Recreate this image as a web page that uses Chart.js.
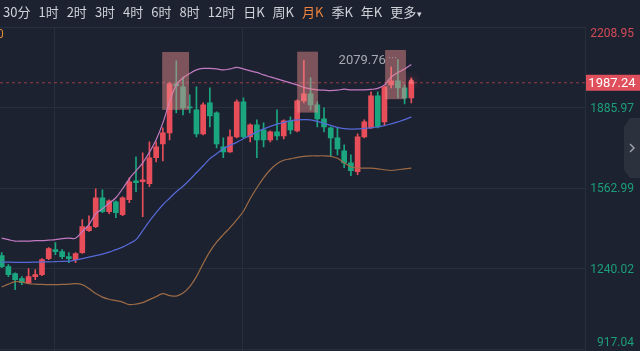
<!DOCTYPE html>
<html>
<head>
<meta charset="utf-8">
<script src="https://cdn.jsdelivr.net/npm/chart.js@4.4.1/dist/chart.umd.min.js"></script>
<style>
html, body { margin: 0; padding: 0; background: #1c2230; overflow: hidden; }
#wrap { position: relative; width: 640px; height: 351px; }
canvas { position: absolute; left: 0; top: 0; }
#tabs { position: absolute; left: 3px; top: 3px; display: flex; gap: 8px; font: 13px "Noto Sans CJK SC", sans-serif; color: #cfd2d9; line-height: 18px; }
#tabs .on { color: #f0843c; }
#tabs small { font-size: 9px; margin-left: 1px; }
</style>
</head>
<body>
<div id="wrap">
  <canvas id="kChart" width="640" height="351"></canvas>
  <div id="tabs">
    <span>30分</span><span>1时</span><span>2时</span><span>3时</span><span>4时</span><span>6时</span><span>8时</span><span>12时</span><span>日K</span><span>周K</span><span class="on">月K</span><span>季K</span><span>年K</span><span>更多<small>▾</small></span>
  </div>
</div>
<script>
// monthly candles (OHLC)
const candleOpen = [1293.6,1249.5,1221.5,1201.4,1185.4,1209.5,1217.5,1281.5,1317.6,1309.6,1289.6,1277.5,1305.6,1393.7,1409.7,1525.9,1469.8,1509.9,1457.8,1517.9,1594.0,1590.0,1582.0,1686.2,1742.3,1786.3,1982.6,1970.6,1890.5,1878.4,1782.3,1906.5,1866.4,1730.2,1710.2,1770.3,1910.5,1770.3,1818.4,1798.3,1758.3,1790.3,1774.3,1834.4,1794.3,1914.5,1942.5,1898.5,1842.4,1806.4,1766.3,1714.2,1666.1,1630.1,1770.3,1806.4,1934.5,1830.4,1978.6,1994.6,1966.6,1926.5];
const candleHigh = [1305.6,1257.5,1225.0,1209.5,1241.5,1237.5,1281.5,1325.6,1345.6,1317.6,1305.6,1305.6,1437.8,1453.8,1562.0,1558.0,1517.9,1513.9,1529.9,1606.0,1690.2,1706.2,1750.3,1750.3,1806.4,1986.6,2075.0,2010.6,1938.5,1970.6,1906.5,1966.6,1870.4,1766.3,1798.3,1918.5,1926.5,1822.4,1838.4,1826.4,1794.3,1878.4,1838.4,1850.4,1918.5,2077.0,2006.6,1910.5,1886.5,1810.3,1806.4,1738.2,1698.2,1782.3,1838.4,1950.5,1950.5,1974.6,2050.7,2079.76,1978.6,2006.6];
const candleLow = [1245.5,1209.5,1157.4,1177.4,1181.4,1197.4,1213.5,1277.5,1297.6,1281.5,1265.5,1265.5,1303.0,1391.0,1405.7,1465.8,1461.8,1445.8,1453.8,1505.9,1550.0,1449.8,1570.0,1670.1,1674.1,1758.3,1866.4,1858.4,1866.4,1770.3,1778.3,1810.3,1726.2,1686.2,1708.0,1766.3,1766.3,1750.3,1686.2,1730.2,1750.3,1758.3,1762.3,1782.3,1790.3,1906.5,1878.4,1810.3,1790.3,1690.2,1698.2,1646.1,1614.1,1618.1,1766.3,1804.0,1806.4,1818.4,1966.6,1926.5,1902.5,1906.5];
const candleClose = [1249.5,1217.5,1197.4,1185.4,1209.5,1217.5,1277.5,1321.6,1309.6,1289.6,1281.5,1301.6,1409.7,1409.7,1525.9,1469.8,1513.9,1465.8,1525.9,1590.0,1586.0,1598.0,1686.2,1730.2,1786.3,1982.6,1974.6,1886.5,1886.5,1782.3,1898.5,1854.4,1742.3,1710.2,1770.3,1910.5,1770.3,1818.4,1758.3,1758.3,1790.3,1774.3,1834.4,1798.3,1914.5,1942.5,1898.5,1842.4,1810.3,1766.3,1722.2,1666.1,1634.1,1770.3,1830.4,1934.5,1810.3,1970.6,1994.6,1966.6,1926.5,1987.24];

// bollinger bands
const bollUpper = [1363.7,1357.7,1351.7,1351.7,1351.7,1353.7,1353.7,1355.7,1357.7,1361.7,1363.7,1363.7,1389.7,1417.8,1461.8,1481.9,1503.9,1525.9,1562.0,1602.0,1634.1,1666.1,1708.2,1758.3,1826.4,1910.5,1978.6,2006.6,2024.7,2038.7,2044.7,2044.7,2042.7,2038.7,2042.7,2048.7,2042.7,2034.7,2028.7,2018.6,2010.6,2002.6,1994.6,1986.6,1978.6,1968.6,1962.6,1958.6,1957.4,1955.8,1957.4,1961.4,1958.6,1958.6,1958.6,1960.6,1964.6,1978.6,2010.6,2028.7,2042.7,2060.7];
const bollMid = [1268.3,1267.5,1266.7,1266.7,1266.7,1267.5,1268.3,1268.3,1269.5,1270.7,1271.5,1275.5,1281.5,1287.6,1293.6,1299.6,1307.6,1317.6,1327.6,1341.6,1357.7,1393.7,1431.8,1465.8,1497.9,1523.9,1549.9,1572.0,1598.0,1626.1,1654.1,1682.2,1702.2,1722.2,1736.2,1748.2,1762.3,1776.3,1790.3,1802.3,1812.3,1821.2,1828.4,1834.4,1838.4,1839.2,1838.4,1832.4,1824.4,1816.3,1808.3,1803.5,1801.5,1802.3,1804.3,1806.3,1810.3,1815.1,1822.4,1830.4,1839.2,1850.4];
const bollLower = [1168.2,1179.4,1189.4,1187.4,1181.4,1179.4,1178.2,1177.4,1177.4,1178.2,1179.4,1181.4,1177.4,1161.4,1141.3,1127.3,1118.5,1113.3,1107.3,1097.3,1099.3,1105.3,1117.3,1129.3,1141.3,1133.3,1131.3,1143.3,1169.4,1209.4,1261.5,1309.6,1347.6,1377.7,1405.7,1437.8,1471.8,1521.9,1566.0,1606.0,1638.1,1662.1,1676.1,1682.1,1688.2,1692.2,1694.2,1694.2,1694.2,1692.2,1684.1,1666.1,1650.1,1644.9,1644.9,1644.9,1642.1,1638.1,1635.3,1638.1,1642.1,1644.9];

// highlighted pattern zones (candle index range, price range)
const zoneStart = [23.9, 44.0, 57.1];
const zoneEnd = [27.9, 47.1, 60.2];
const zoneLow = [1878.4, 1867.6, 1921.3];
const zoneHigh = [2110.8, 2112.0, 2118.8];

const yTicks = [917.04, 1240.02, 1562.99, 1885.97, 2208.95];
const xGridAt = [7.8, 35.9];
const lastPrice = 1987.24;

const upColor = "#e84e5a";
const downColor = "#1ba680";
const gridColor = "#272e3c";

const idx = candleOpen.map((_, i) => i);
const candleColors = idx.map(i => candleClose[i] >= candleOpen[i] ? upColor : downColor);

const overlay = {
  id: "overlay",
  beforeDatasetsDraw(chart) {
    const { ctx, chartArea, scales: { y } } = chart;
    const py = y.getPixelForValue(lastPrice);
    ctx.save();
    ctx.strokeStyle = "rgba(232,80,92,0.6)";
    ctx.setLineDash([3, 3]);
    ctx.lineWidth = 1;
    ctx.beginPath();
    ctx.moveTo(chartArea.left, py);
    ctx.lineTo(chartArea.right, py);
    ctx.stroke();
    ctx.restore();
  },
  afterDatasetsDraw(chart) {
    const { ctx, scales: { x, y } } = chart;
    ctx.save();
    // zones
    ctx.fillStyle = "rgba(235,140,140,0.47)";
    zoneStart.forEach((s, k) => {
      const x1 = x.getPixelForValue(s), x2 = x.getPixelForValue(zoneEnd[k]);
      const y1 = y.getPixelForValue(zoneHigh[k]), y2 = y.getPixelForValue(zoneLow[k]);
      ctx.fillRect(x1, y1, x2 - x1, y2 - y1);
    });
    // glow on last candle
    const li = idx.length - 1;
    ctx.shadowColor = "rgba(255,80,90,0.9)";
    ctx.shadowBlur = 8;
    ctx.fillStyle = "rgba(255,110,120,0.9)";
    ctx.beginPath();
    ctx.arc(x.getPixelForValue(li), y.getPixelForValue(candleClose[li]) - 1, 2.5, 0, Math.PI * 2);
    ctx.fill();
    ctx.shadowBlur = 0;
    // max marker
    let im = 0;
    candleHigh.forEach((h, i) => { if (h > candleHigh[im]) im = i; });
    const mx = x.getPixelForValue(im), my = y.getPixelForValue(candleHigh[im]);
    ctx.strokeStyle = "#a6aab3";
    ctx.setLineDash([1, 2]);
    ctx.beginPath();
    ctx.moveTo(mx - 2, my - 2);
    ctx.lineTo(mx - 11, my - 2);
    ctx.stroke();
    ctx.setLineDash([]);
    ctx.fillStyle = "#a6aab3";
    ctx.font = "13px Roboto";
    ctx.textAlign = "right";
    ctx.textBaseline = "middle";
    ctx.fillText(candleHigh[im].toFixed(2), mx - 12, my + 1);
    ctx.restore();
  },
  afterDraw(chart) {
    const { ctx, scales: { y } } = chart;
    ctx.save();
    ctx.font = "12px Roboto";
    ctx.textAlign = "right";
    ctx.textBaseline = "middle";
    yTicks.forEach(v => {
      let py = y.getPixelForValue(v) + 1;
      py = Math.min(Math.max(py, y.top + 6), y.bottom - 8);
      ctx.fillStyle = v > lastPrice ? "#d44b56" : "#1d9e7a";
      ctx.fillText(v.toFixed(2), 634, py);
    });
    // current price tag
    const py = y.getPixelForValue(lastPrice);
    ctx.fillStyle = "#e0505c";
    ctx.fillRect(586, py - 8, 54, 16);
    ctx.fillStyle = "#ffffff";
    ctx.font = "13px Roboto";
    ctx.textAlign = "center";
    ctx.fillText(lastPrice.toFixed(2), 612, py + 0.5);
    // cut-off legend digit on the left
    ctx.fillStyle = "#e08a3a";
    ctx.textAlign = "left";
    ctx.font = "12px Roboto";
    ctx.fillText("0", -3, 35);
    // side tab
    ctx.fillStyle = "#2b313d";
    ctx.beginPath();
    ctx.moveTo(640, 118);
    ctx.lineTo(630, 118);
    ctx.lineTo(624, 127);
    ctx.lineTo(624, 170);
    ctx.lineTo(630, 178);
    ctx.lineTo(640, 178);
    ctx.closePath();
    ctx.fill();
    ctx.strokeStyle = "#9aa0aa";
    ctx.lineWidth = 1.5;
    ctx.beginPath();
    ctx.moveTo(630, 144);
    ctx.lineTo(634, 148);
    ctx.lineTo(630, 152);
    ctx.stroke();
    ctx.restore();
  }
};

const ctx = document.getElementById("kChart").getContext("2d");

new Chart(ctx, {
  type: "bar",
  data: {
    datasets: [
      {
        type: "line",
        data: idx.map(i => ({ x: i, y: bollUpper[i] })),
        borderColor: "#c27ac2",
        borderWidth: 1.2,
        pointRadius: 0,
        tension: 0.35,
        order: 0
      },
      {
        type: "line",
        data: idx.map(i => ({ x: i, y: bollMid[i] })),
        borderColor: "#5669d8",
        borderWidth: 1.2,
        pointRadius: 0,
        tension: 0.35,
        order: 0
      },
      {
        type: "line",
        data: idx.map(i => ({ x: i, y: bollLower[i] })),
        borderColor: "#9c6b45",
        borderWidth: 1.2,
        pointRadius: 0,
        tension: 0.35,
        order: 0
      },
      {
        data: idx.map(i => ({ x: i, y: [Math.min(candleOpen[i], candleClose[i]), Math.max(candleOpen[i], candleClose[i])] })),
        backgroundColor: candleColors,
        barThickness: 5,
        minBarLength: 1,
        grouped: false,
        order: 2
      },
      {
        data: idx.map(i => ({ x: i, y: [candleLow[i], candleHigh[i]] })),
        backgroundColor: candleColors,
        barThickness: 1,
        grouped: false,
        order: 3
      }
    ]
  },
  options: {
    responsive: false,
    animation: false,
    layout: { padding: { top: 27.5, left: 0, right: 0, bottom: 0 } },
    plugins: { legend: { display: false }, tooltip: { enabled: false } },
    scales: {
      x: {
        type: "linear",
        min: -0.2532,
        max: 86.865,
        offset: false,
        grid: { color: gridColor, drawTicks: false, offset: false },
        border: { display: false },
        ticks: { display: false },
        afterBuildTicks: s => { s.ticks = xGridAt.map(v => ({ value: v })); },
        afterFit: s => { s.height = 0; }
      },
      y: {
        position: "right",
        min: 911,
        max: 2208.95,
        grid: { color: gridColor, drawTicks: false },
        border: { color: gridColor },
        ticks: { display: false },
        afterBuildTicks: s => { s.ticks = yTicks.map(v => ({ value: v })); },
        afterFit: s => { s.width = 55; }
      }
    }
  },
  plugins: [overlay]
});
</script>
</body>
</html>
